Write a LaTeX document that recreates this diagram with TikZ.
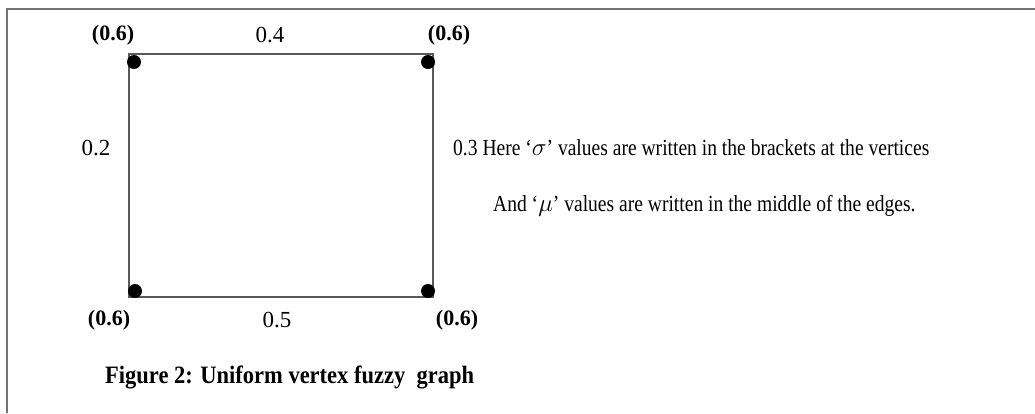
\documentclass[tikz,border=0pt]{standalone}
\usepackage{fontspec}
\setmainfont{Liberation Serif}
\newfontfamily\notefont{Liberation Serif}[FakeStretch=0.85, Ligatures=TeX]
\newfontfamily\capfont{Liberation Serif}[FakeStretch=0.9, Ligatures=TeX]
\usetikzlibrary{positioning}
\tikzset{
  vertex/.style={circle, fill=black, inner sep=0pt, minimum size=14pt},
  edge/.style={draw=black!65, line width=1.5pt},
  val/.style={font=\fontsize{23}{26}\selectfont, inner sep=0pt},
  sigval/.style={font=\bfseries\fontsize{22}{25}\selectfont, inner sep=0pt},
  note/.style={font=\notefont\fontsize{23}{26}\selectfont, inner sep=0pt, anchor=west},
}

\begin{document}
\begin{tikzpicture}[x=1pt, y=-1pt]
				\useasboundingbox (0, 0) rectangle (1035, 413);
				% Frame:
				\draw[black!55, line width=2pt] (7, 413) -- (7, 9) -- (1035, 9);
				% Corners and vertices:
				\coordinate (c1) at (129, 54);
				\coordinate (c2) at (433, 54);
				\coordinate (c3) at (433, 297);
				\coordinate (c4) at (129, 297);
				\draw[edge] (c1) -- (c2) -- (c3) -- (c4) -- cycle;
				\node[vertex] (v1) at (134, 62){};
				\node[vertex] (v2) at (428, 62){};
				\node[vertex] (v3) at (428, 291){};
				\node[vertex] (v4) at (135, 291){};
				% Labels:
				\node[sigval] (s1) at (113, 35){(0.6)};
				\node[sigval] (s2) at (449, 35){(0.6)};
				\node[sigval] (s3) at (457, 320){(0.6)};
				\node[sigval] (s4) at (109, 320){(0.6)};
				\node[val] (m12) at (270, 35){0.4};
				\node[val] (m34) at (277, 320){0.5};
				\node[val] (m41) at (96, 148){0.2};
				\node[note] (note1) at (453, 148){0.3 Here ‘$\sigma$’ values are written in the brackets at the vertices};
				\node[note] (note2) at (493, 206){And ‘$\mu$’ values are written in the middle of the edges.};
				\node[font=\capfont\bfseries\fontsize{25}{28}\selectfont, inner sep=0pt, anchor=west] (cap) at (105, 377){Figure 2: Uniform vertex fuzzy\ \ graph};
			\end{tikzpicture}
\end{document}
